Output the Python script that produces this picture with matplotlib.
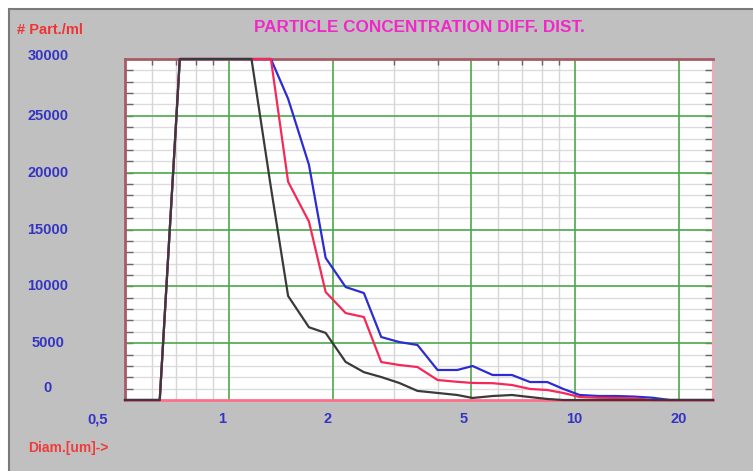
import matplotlib
matplotlib.use("Agg")
import matplotlib.pyplot as plt
import matplotlib.patches as mpatches
from matplotlib.transforms import ScaledTranslation, blended_transform_factory
from matplotlib.ticker import FixedLocator, NullFormatter

# ---------------- data ----------------
diam = [0.5, 0.63, 0.72, 0.81, 0.91, 1.03, 1.16, 1.32, 1.48, 1.70, 1.90, 2.17,
        2.45, 2.75, 3.10, 3.50, 4.0, 4.56, 5.05, 5.77, 6.56, 7.40, 8.30, 9.24,
        10.3, 11.7, 13.1, 14.8, 16.7, 18.8, 21.6, 25.0]

blue = [0, 0, 30000, 30000, 30000, 30000, 30000, 30000, 26500, 20700, 12500, 9940,
        9410, 5540, 5100, 4840, 2640, 2640, 2990, 2200, 2200, 1580, 1580, 970,
        440, 350, 350, 300, 200, 0, 0, 0]

red = [0, 0, 30000, 30000, 30000, 30000, 30000, 30000, 19200, 15700, 9500, 7650,
       7300, 3340, 3080, 2900, 1760, 1600, 1500, 1480, 1320, 970, 880, 615,
       260, 200, 180, 150, 0, 0, 0, 0]

black = [0, 0, 30000, 30000, 30000, 30000, 30000, 18700, 9150, 6400, 5900, 3350,
         2450, 2020, 1500, 800, 620, 440, 180, 350, 440, 260, 90, 0,
         0, 0, 0, 0, 0, 0, 0, 0]

x_major = [1, 2, 5, 10, 20]
x_minor = [0.6, 0.7, 0.8, 0.9, 3, 4, 6, 7, 8, 9]
x_tick_vals = [0.5, 1, 2, 5, 10, 20]
x_tick_labels = ["0,5", "1", "2", "5", "10", "20"]
y_tick_vals = [0, 5000, 10000, 15000, 20000, 25000, 30000]
y_tick_labels = ["0", "5000", "10000", "15000", "20000", "25000", "30000"]

title = "PARTICLE CONCENTRATION DIFF. DIST."
ylabel = "# Part./ml"
xlabel = "Diam.[um]->"

# ---------------- style ----------------
W, H, DPI = 753, 471, 100
plt.rcParams['font.family'] = ['Liberation Sans', 'DejaVu Sans']
fig = plt.figure(figsize=(W / DPI, H / DPI), dpi=DPI, facecolor='white')

# grey panel (behind everything)
panel = mpatches.Rectangle((9 / W, -0.01), 1.02, 1 - 9 / H + 0.01, transform=fig.transFigure,
                           facecolor='#c0c0c0', edgecolor='#7a7a7a', linewidth=1.5, zorder=-10)
fig.patches.append(panel)

L, R, T, B = 125, 713, 59, 400
ax = fig.add_axes([L / W, 1 - B / H, (R - L) / W, (B - T) / H], zorder=1)
ax.set_facecolor('white')
ax.set_xscale('log')
ax.set_xlim(0.5, 25)
ax.set_ylim(0, 30000)

# grid
for v in range(1000, 30000, 1000):
    if v % 5000:
        ax.axhline(v, color='#dcdcdc', lw=1.0, zorder=1)
for v in x_minor:
    ax.axvline(v, color='#d6d6d6', lw=1.0, zorder=1)
for v in range(5000, 30000, 5000):
    ax.axhline(v, color='#4ca84c', lw=1.2, zorder=2)
for v in x_major:
    ax.axvline(v, color='#4ca84c', lw=1.2, zorder=2)

# ticks (inside small marks)
ax.xaxis.set_major_locator(FixedLocator(x_minor))
ax.xaxis.set_minor_locator(FixedLocator([]))
ax.xaxis.set_major_formatter(NullFormatter())
ax.xaxis.set_minor_formatter(NullFormatter())
ax.yaxis.set_major_locator(FixedLocator(list(range(1000, 30000, 1000))))
ax.yaxis.set_major_formatter(NullFormatter())
ax.tick_params(axis='x', which='both', direction='in', top=True, bottom=False,
               length=4, width=1, color='#666666')
ax.tick_params(axis='y', which='both', direction='in', left=True, right=True,
               length=6, width=1, color='#666666')

# spines
ax.spines['left'].set_color('#a85a66')
ax.spines['left'].set_linewidth(2)
ax.spines['top'].set_color('#a85a66')
ax.spines['top'].set_linewidth(2)
ax.spines['bottom'].set_color('#ff6f8c')
ax.spines['bottom'].set_linewidth(2)
ax.spines['right'].set_color('#f2a8b6')
ax.spines['right'].set_linewidth(1.5)

# lines
ax.plot(diam, blue, color='#2c2cd2', lw=1.6, zorder=5, clip_on=False)
ax.plot(diam, red, color='#f5285a', lw=1.6, zorder=6, clip_on=False)
ax.plot(diam, black, color='#3a3a3a', lw=1.6, zorder=7, clip_on=False)

# tick labels
tick_color = '#3434c4'
fs = 10.5
x_off_px = [-27, -7, -6, -7, -1, -1]
trx = blended_transform_factory(ax.transData, ax.transAxes)
for v, lab, dx in zip(x_tick_vals, x_tick_labels, x_off_px):
    ax.text(v, 0, lab, transform=trx + ScaledTranslation(dx / DPI, -19 / DPI, fig.dpi_scale_trans),
            ha='center', va='center', fontsize=fs, fontweight='bold', color=tick_color,
            clip_on=False)

y_off_px = {0: 12, 30000: 3}
try_ = blended_transform_factory(fig.transFigure, ax.transData)
for v, lab in zip(y_tick_vals, y_tick_labels):
    dy = y_off_px.get(v, 0)
    ax.text(48 / W, v, lab, transform=try_ + ScaledTranslation(0, dy / DPI, fig.dpi_scale_trans),
            ha='center', va='center', fontsize=fs, fontweight='bold', color=tick_color,
            clip_on=False)

# titles / axis labels
fig.text(419 / W, 1 - 28 / H, title, ha='center', va='center', fontsize=12.3,
         fontweight='bold', color='#f028c8')
fig.text(17 / W, 1 - 30 / H, ylabel, ha='left', va='center', fontsize=fs,
         fontweight='bold', color='#f03434')
fig.text(28 / W, 1 - 448 / H, xlabel, ha='left', va='center', fontsize=10,
         fontweight='bold', color='#f03c3c')

fig.savefig('out.png', dpi=DPI, facecolor=fig.get_facecolor())
